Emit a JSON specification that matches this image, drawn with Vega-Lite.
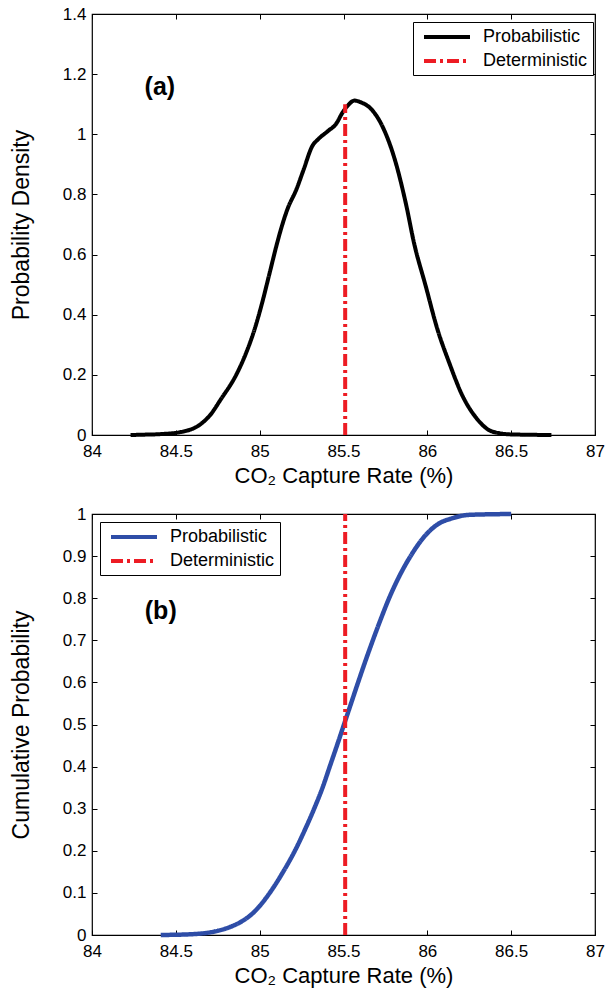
{
  "$schema": "https://vega.github.io/schema/vega-lite/v6.json",
  "background": "white",
  "padding": {"left": 9, "top": 4, "right": 5, "bottom": 5},
  "datasets": {
    "pdf": [
      {"rate": 84.23, "density": 0, "series": "Probabilistic"},
      {"rate": 84.3, "density": 0.001, "series": "Probabilistic"},
      {"rate": 84.41, "density": 0.003, "series": "Probabilistic"},
      {"rate": 84.53, "density": 0.01, "series": "Probabilistic"},
      {"rate": 84.64, "density": 0.033, "series": "Probabilistic"},
      {"rate": 84.7, "density": 0.063, "series": "Probabilistic"},
      {"rate": 84.77, "density": 0.12, "series": "Probabilistic"},
      {"rate": 84.86, "density": 0.2, "series": "Probabilistic"},
      {"rate": 84.92, "density": 0.274, "series": "Probabilistic"},
      {"rate": 84.97, "density": 0.352, "series": "Probabilistic"},
      {"rate": 85.015, "density": 0.44, "series": "Probabilistic"},
      {"rate": 85.06, "density": 0.54, "series": "Probabilistic"},
      {"rate": 85.105, "density": 0.64, "series": "Probabilistic"},
      {"rate": 85.13, "density": 0.69, "series": "Probabilistic"},
      {"rate": 85.165, "density": 0.75, "series": "Probabilistic"},
      {"rate": 85.22, "density": 0.818, "series": "Probabilistic"},
      {"rate": 85.26, "density": 0.879, "series": "Probabilistic"},
      {"rate": 85.315, "density": 0.962, "series": "Probabilistic"},
      {"rate": 85.35, "density": 0.984, "series": "Probabilistic"},
      {"rate": 85.41, "density": 1.012, "series": "Probabilistic"},
      {"rate": 85.455, "density": 1.034, "series": "Probabilistic"},
      {"rate": 85.495, "density": 1.073, "series": "Probabilistic"},
      {"rate": 85.525, "density": 1.095, "series": "Probabilistic"},
      {"rate": 85.565, "density": 1.112, "series": "Probabilistic"},
      {"rate": 85.605, "density": 1.106, "series": "Probabilistic"},
      {"rate": 85.665, "density": 1.084, "series": "Probabilistic"},
      {"rate": 85.735, "density": 1.023, "series": "Probabilistic"},
      {"rate": 85.805, "density": 0.918, "series": "Probabilistic"},
      {"rate": 85.875, "density": 0.762, "series": "Probabilistic"},
      {"rate": 85.92, "density": 0.64, "series": "Probabilistic"},
      {"rate": 85.99, "density": 0.496, "series": "Probabilistic"},
      {"rate": 86.06, "density": 0.352, "series": "Probabilistic"},
      {"rate": 86.13, "density": 0.241, "series": "Probabilistic"},
      {"rate": 86.21, "density": 0.13, "series": "Probabilistic"},
      {"rate": 86.29, "density": 0.058, "series": "Probabilistic"},
      {"rate": 86.36, "density": 0.019, "series": "Probabilistic"},
      {"rate": 86.43, "density": 0.006, "series": "Probabilistic"},
      {"rate": 86.5, "density": 0.002, "series": "Probabilistic"},
      {"rate": 86.74, "density": 0, "series": "Probabilistic"}
    ],
    "cdf": [
      {"rate": 84.41, "prob": 0, "series": "Probabilistic"},
      {"rate": 84.6, "prob": 0.002, "series": "Probabilistic"},
      {"rate": 84.75, "prob": 0.01, "series": "Probabilistic"},
      {"rate": 84.83, "prob": 0.02, "series": "Probabilistic"},
      {"rate": 84.9, "prob": 0.034, "series": "Probabilistic"},
      {"rate": 84.96, "prob": 0.052, "series": "Probabilistic"},
      {"rate": 85.06, "prob": 0.1, "series": "Probabilistic"},
      {"rate": 85.14, "prob": 0.15, "series": "Probabilistic"},
      {"rate": 85.21, "prob": 0.2, "series": "Probabilistic"},
      {"rate": 85.27, "prob": 0.25, "series": "Probabilistic"},
      {"rate": 85.325, "prob": 0.3, "series": "Probabilistic"},
      {"rate": 85.375, "prob": 0.35, "series": "Probabilistic"},
      {"rate": 85.418, "prob": 0.4, "series": "Probabilistic"},
      {"rate": 85.461, "prob": 0.45, "series": "Probabilistic"},
      {"rate": 85.503, "prob": 0.5, "series": "Probabilistic"},
      {"rate": 85.545, "prob": 0.55, "series": "Probabilistic"},
      {"rate": 85.587, "prob": 0.6, "series": "Probabilistic"},
      {"rate": 85.63, "prob": 0.65, "series": "Probabilistic"},
      {"rate": 85.675, "prob": 0.7, "series": "Probabilistic"},
      {"rate": 85.722, "prob": 0.75, "series": "Probabilistic"},
      {"rate": 85.772, "prob": 0.8, "series": "Probabilistic"},
      {"rate": 85.83, "prob": 0.85, "series": "Probabilistic"},
      {"rate": 85.9, "prob": 0.9, "series": "Probabilistic"},
      {"rate": 85.99, "prob": 0.95, "series": "Probabilistic"},
      {"rate": 86.06, "prob": 0.975, "series": "Probabilistic"},
      {"rate": 86.15, "prob": 0.99, "series": "Probabilistic"},
      {"rate": 86.25, "prob": 0.998, "series": "Probabilistic"},
      {"rate": 86.5, "prob": 1, "series": "Probabilistic"}
    ],
    "detA": [{"rate": 85.51, "low": 0, "high": 1.1, "series": "Deterministic"}],
    "detB": [{"rate": 85.51, "low": 0, "high": 1, "series": "Deterministic"}],
    "tagA": [{"rate": 84.405, "value": 1.157, "tag": "(a)"}],
    "tagB": [{"rate": 84.41, "value": 0.769, "tag": "(b)"}]
  },
  "vconcat": [
    {
      "width": 503,
      "height": 421,
      "layer": [
        {
          "data": {"name": "pdf"},
          "mark": {"type": "line", "strokeWidth": 4, "interpolate": "monotone"},
          "encoding": {
            "x": {"field": "rate", "type": "quantitative", "scale": {"domain": [84, 87], "nice": false, "zero": false},
              "axis": {"orient": "bottom", "values": [84, 84.5, 85, 85.5, 86, 86.5, 87], "format": "~g", "title": "CO₂ Capture Rate (%)", "labelPadding": 13, "titleBaseline": "alphabetic", "titleY": 47}},
            "y": {"field": "density", "type": "quantitative", "scale": {"domain": [0, 1.4], "nice": false},
              "axis": {"orient": "left", "values": [0, 0.2, 0.4, 0.6, 0.8, 1, 1.2, 1.4], "format": "~g", "title": "Probability Density", "labelPadding": 11, "titleBaseline": "alphabetic", "titleX": -64}},
            "color": {"field": "series", "type": "nominal", "scale": {"domain": ["Probabilistic", "Deterministic"], "range": ["#000000", "#ED1C24"]},
              "legend": {"title": null, "orient": "none", "legendX": 321, "legendY": 8}},
            "strokeDash": {"field": "series", "type": "nominal", "scale": {"domain": ["Probabilistic", "Deterministic"], "range": [[1, 0], [12, 4, 3, 4]]},
              "legend": {"title": null, "orient": "none", "legendX": 321, "legendY": 8}}
          }
        },
        {
          "data": {"name": "detA"},
          "mark": {"type": "rule", "strokeWidth": 4},
          "encoding": {
            "x": {"field": "rate", "type": "quantitative",
              "axis": {"orient": "top", "values": [84, 84.5, 85, 85.5, 86, 86.5, 87], "labels": false, "title": null}},
            "y": {"field": "low", "type": "quantitative",
              "axis": {"orient": "right", "values": [0, 0.2, 0.4, 0.6, 0.8, 1, 1.2, 1.4], "labels": false, "title": null}},
            "y2": {"field": "high"},
            "color": {"field": "series", "type": "nominal"},
            "strokeDash": {"field": "series", "type": "nominal"}
          }
        },
        {
          "data": {"name": "tagA"},
          "mark": {"type": "text", "fontSize": 25, "fontWeight": "bold", "font": "Liberation Sans", "align": "center", "baseline": "middle", "color": "black"},
          "encoding": {
            "x": {"field": "rate", "type": "quantitative", "axis": null},
            "y": {"field": "value", "type": "quantitative", "axis": null},
            "text": {"field": "tag", "type": "nominal"}
          }
        }
      ],
      "resolve": {"axis": {"x": "independent", "y": "independent"}}
    },
    {
      "width": 503,
      "height": 421,
      "layer": [
        {
          "data": {"name": "cdf"},
          "mark": {"type": "line", "strokeWidth": 4.5, "interpolate": "monotone"},
          "encoding": {
            "x": {"field": "rate", "type": "quantitative", "scale": {"domain": [84, 87], "nice": false, "zero": false},
              "axis": {"orient": "bottom", "values": [84, 84.5, 85, 85.5, 86, 86.5, 87], "format": "~g", "title": "CO₂ Capture Rate (%)", "labelPadding": 13, "titleBaseline": "alphabetic", "titleY": 47}},
            "y": {"field": "prob", "type": "quantitative", "scale": {"domain": [0, 1], "nice": false},
              "axis": {"orient": "left", "values": [0, 0.1, 0.2, 0.3, 0.4, 0.5, 0.6, 0.7, 0.8, 0.9, 1], "format": "~g", "title": "Cumulative Probability", "labelPadding": 11, "titleBaseline": "alphabetic", "titleX": -64}},
            "color": {"field": "series", "type": "nominal", "scale": {"domain": ["Probabilistic", "Deterministic"], "range": ["#2E4DA7", "#ED1C24"]},
              "legend": {"title": null, "orient": "none", "legendX": 8, "legendY": 8}},
            "strokeDash": {"field": "series", "type": "nominal", "scale": {"domain": ["Probabilistic", "Deterministic"], "range": [[1, 0], [12, 4, 3, 4]]},
              "legend": {"title": null, "orient": "none", "legendX": 8, "legendY": 8}}
          }
        },
        {
          "data": {"name": "detB"},
          "mark": {"type": "rule", "strokeWidth": 4},
          "encoding": {
            "x": {"field": "rate", "type": "quantitative",
              "axis": {"orient": "top", "values": [84, 84.5, 85, 85.5, 86, 86.5, 87], "labels": false, "title": null}},
            "y": {"field": "low", "type": "quantitative",
              "axis": {"orient": "right", "values": [0, 0.1, 0.2, 0.3, 0.4, 0.5, 0.6, 0.7, 0.8, 0.9, 1], "labels": false, "title": null}},
            "y2": {"field": "high"},
            "color": {"field": "series", "type": "nominal"},
            "strokeDash": {"field": "series", "type": "nominal"}
          }
        },
        {
          "data": {"name": "tagB"},
          "mark": {"type": "text", "fontSize": 25, "fontWeight": "bold", "font": "Liberation Sans", "align": "center", "baseline": "middle", "color": "black"},
          "encoding": {
            "x": {"field": "rate", "type": "quantitative", "axis": null},
            "y": {"field": "value", "type": "quantitative", "axis": null},
            "text": {"field": "tag", "type": "nominal"}
          }
        }
      ],
      "resolve": {"axis": {"x": "independent", "y": "independent"}}
    }
  ],
  "spacing": 79,
  "bounds": "flush",
  "resolve": {"scale": {"color": "independent", "strokeDash": "independent"}, "legend": {"color": "independent", "strokeDash": "independent"}},
  "config": {
    "view": {"stroke": "black", "strokeWidth": 1.2},
    "axis": {
      "labelFont": "Liberation Sans", "titleFont": "Liberation Sans",
      "labelFontSize": 17, "titleFontSize": 22, "titleFontWeight": "normal",
      "labelColor": "black", "titleColor": "black", "tickColor": "black",
      "tickSize": -5, "tickWidth": 1, "domain": false, "grid": false,
      "labelFlush": false, "labelOverlap": false
    },
    "axisLeft": {"titleFontSize": 23},
    "legend": {
      "strokeColor": "black", "fillColor": "white", "padding": 5, "cornerRadius": 0,
      "labelFont": "Liberation Sans", "labelFontSize": 18, "labelColor": "black", "labelLimit": 0,
      "symbolType": "M-1,0H4.75", "symbolSize": 256, "symbolStrokeWidth": 4,
      "symbolOffset": 4, "labelOffset": 41, "rowPadding": 5
    }
  }
}
